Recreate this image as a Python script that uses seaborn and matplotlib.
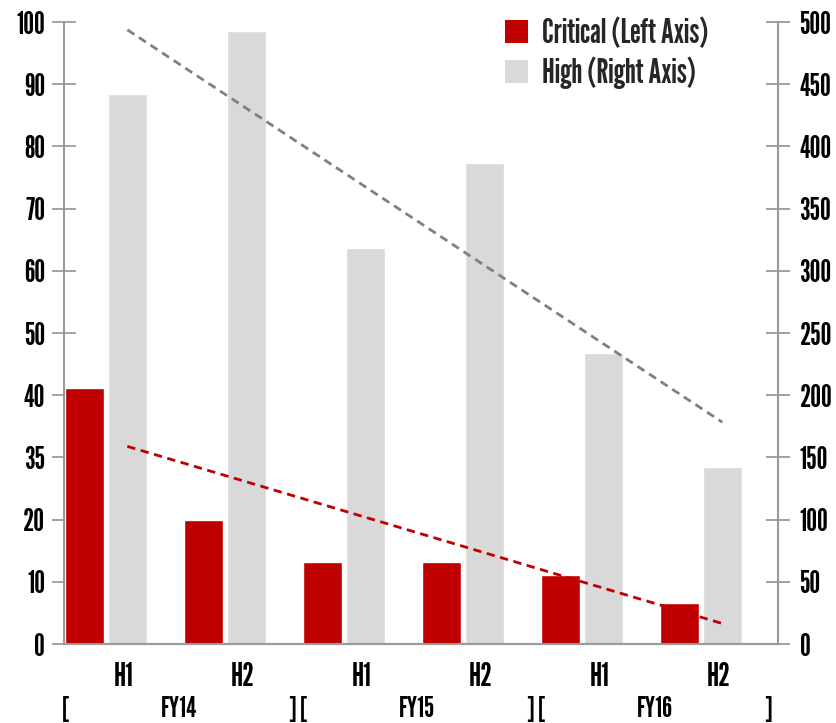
import numpy as np
import pandas as pd
import matplotlib
matplotlib.use("Agg")
import matplotlib.pyplot as plt
from matplotlib.patches import Patch
import seaborn as sns

# Data
periods = ["FY14 H1", "FY14 H2", "FY15 H1", "FY15 H2", "FY16 H1", "FY16 H2"]
half_labels = ["H1", "H2", "H1", "H2", "H1", "H2"]
fiscal_years = ["FY14", "FY15", "FY16"]
critical = [41.2, 19.9, 13.2, 13.2, 11.1, 6.6]
high = [442, 493, 318, 387, 234, 142]
left_ticks = [0, 10, 20, 30, 40, 50, 60, 70, 80, 90, 100]
left_tick_labels = ["0", "10", "20", "35", "40", "50", "60", "70", "80", "90", "100"]
right_ticks = [0, 50, 100, 150, 200, 250, 300, 350, 400, 450, 500]

RED = "#C00000"
GREY = "#D9D9D9"
SPINE = "#9A9A9A"
FONT = ["League Gothic", "Fira Sans Extra Condensed", "DejaVu Sans"]
TICK_SIZE = 22
HALF_SIZE = 23
FY_SIZE = 21
LEGEND_SIZE = 24

sns.set_theme(style="white")
plt.rcParams["font.family"] = FONT
plt.rcParams["font.weight"] = "normal"

df = pd.DataFrame({
    "period": periods * 2,
    "series": ["Critical"] * 6 + ["High"] * 6,
    "value": critical + high,
})
hue_order = ["Critical", "High"]
palette = {"Critical": RED, "High": GREY}

fig = plt.figure(figsize=(8.37, 7.23), dpi=100)
ax1 = fig.add_axes([64 / 837, 1 - 644 / 723, 714 / 837, 622 / 723])
ax2 = ax1.twinx()

bar_kw = dict(x="period", y="value", hue="series", hue_order=hue_order,
              order=periods, palette=palette, width=0.72, gap=0.1, dodge=True,
              saturation=1, errorbar=None, legend=False)
sns.barplot(data=df[df.series == "Critical"], ax=ax1, **bar_kw)
sns.barplot(data=df[df.series == "High"], ax=ax2, **bar_kw)

# linear trend lines through the bar centres
xpos = np.arange(len(periods)) + 0.18
sns.regplot(x=xpos, y=np.array(critical), ax=ax1, scatter=False, ci=None,
            truncate=True, line_kws=dict(color=RED, lw=2, ls=(0, (3, 2))))
sns.regplot(x=xpos, y=np.array(high), ax=ax2, scatter=False, ci=None,
            truncate=True, line_kws=dict(color="#808080", lw=2, ls=(0, (3, 2))))

ax1.set_zorder(2)
ax1.patch.set_visible(False)

left_edge = -0.352
for ax in (ax1, ax2):
    ax.set_xlim(left_edge, left_edge + len(periods))
    ax.set_xlabel("")
    ax.set_ylabel("")
    for s in ax.spines.values():
        s.set_color(SPINE)
        s.set_linewidth(1.5)
    ax.spines["top"].set_visible(False)

ax1.set_ylim(0, 100)
ax2.set_ylim(0, 500)
ax1.spines["right"].set_visible(False)
ax2.spines["left"].set_visible(False)

ax1.set_yticks(left_ticks)
ax1.set_yticklabels(left_tick_labels)
ax2.set_yticks(right_ticks)
ax2.set_yticklabels([str(t) for t in right_ticks])

ax1.tick_params(axis="y", direction="inout", length=17, width=1.3,
                color=SPINE, labelsize=TICK_SIZE, pad=5, labelcolor="black")
ax2.tick_params(axis="y", direction="inout", length=17, width=1.3,
                color=SPINE, labelsize=TICK_SIZE, pad=7, labelcolor="black")

# category boundary ticks on the x axis
ax1.set_xticks(np.arange(len(periods)) + left_edge)
ax1.set_xticklabels([])
ax1.tick_params(axis="x", direction="out", length=8, width=1.3, color=SPINE)
ax2.set_xticks([])

tr = ax1.get_xaxis_transform()
# half-year labels
for i, lab in enumerate(half_labels):
    ax1.text(i + left_edge + 0.5, -0.053, lab, transform=tr,
             ha="center", va="center", fontsize=HALF_SIZE, color="black")

# fiscal year labels with brackets
for j, fy in enumerate(fiscal_years):
    start = left_edge + 2 * j
    end = start + 2
    ax1.text(start - 0.015, -0.104, "[", transform=tr, ha="left", va="center",
             fontsize=FY_SIZE, color="black")
    ax1.text(end - 0.05, -0.104, "]", transform=tr, ha="right", va="center",
             fontsize=FY_SIZE, color="black")
    ax1.text(start + 0.97, -0.104, fy, transform=tr, ha="center", va="center",
             fontsize=FY_SIZE, color="black")

handles = [Patch(facecolor=RED, edgecolor="none", label="Critical (Left Axis)"),
           Patch(facecolor=GREY, edgecolor="none", label="High (Right Axis)")]
ax1.legend(handles=handles, loc="upper left", bbox_to_anchor=(505 / 837, 1 - 18 / 723),
           bbox_transform=fig.transFigure, frameon=False,
           handlelength=0.68, handleheight=0.68, handletextpad=0.42, labelspacing=0.2,
           borderaxespad=0, borderpad=0, prop=dict(family=FONT, size=LEGEND_SIZE))

fig.savefig("out.png", dpi=100)
